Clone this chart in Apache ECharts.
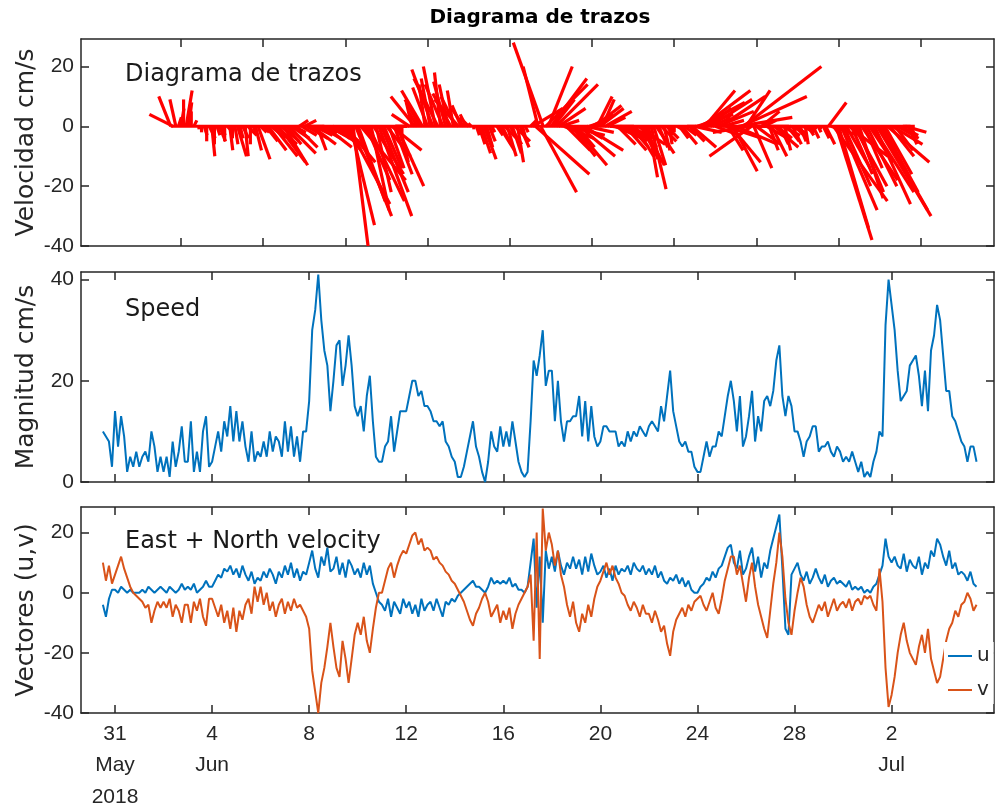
<!DOCTYPE html>
<html><head><meta charset="utf-8">
<script src="https://cdn.jsdelivr.net/npm/echarts@6/dist/echarts.min.js"></script>
<style>html,body{margin:0;padding:0;background:#fff}#c{width:995px;height:811px}</style>
</head><body><div id="c"></div>
<script>
// Samples every 3 hours, from 2018-05-30 12:00 to 2018-07-05 12:00.
// x in days since 2018-05-31 00:00
const startDay = -0.5;
const stepHours = 3;

// bottom-panel date ticks
const tickDays = [0, 4, 8, 12, 16, 20, 24, 28, 32];
const tickLabels = ['31\nMay\n2018', '4\nJun', '8', '12', '16', '20', '24', '28', '2\nJul'];
// stick-panel ticks (unlabelled)
const stickTickDays = [0, 4, 8, 12, 16, 20, 24, 28, 32, 36];
const velTicks = [-40, -20, 0, 20];
const speedTicks = [0, 20, 40];

// East velocity u (cm/s)
const u = [
  -4, -8, -2, 1,                 // May 30 (12h-21h)
  1, 0, 2, 1, 0, 1, 0, 0,        // May 31
  0, 1, 0, 2, 1, 0, 1, 2,        // Jun 1
  1, 0, 2, 1, 0, 1, 3, 1,        // Jun 2
  2, 1, 3, 0, 1, 2, 4, 2,        // Jun 3
  2, 4, 6, 5, 8, 7, 9, 6,        // Jun 4
  8, 5, 9, 6, 4, 7, 3, 5,        // Jun 5
  4, 7, 5, 8, 6, 3, 7, 5,        // Jun 6
  9, 6, 10, 5, 8, 4, 7, 6,       // Jun 7
  10, 14, 8, 5, 12, 9, 15, 7,    // Jun 8
  8, 12, 6, 10, 5, 11, 9, 6,     // Jun 9
  8, 5, 10, 6, 9, 3, 0, -3,      // Jun 10
  -4, -6, -2, -8, -3, -5, -7, -2,// Jun 11
  -5, -3, -7, -4, -8, -2, -6, -4,// Jun 12
  -3, -6, -2, -5, -8, -3, -4, -2,// Jun 13
  -3, -1, 0, 1, 2, 3, 4, 2,      // Jun 14
  2, 1, 0, 2, 5, 3, 4, 3,        // Jun 15
  4, 3, 5, 2, 3, 1, 1, 0,        // Jun 16
  2, 10, 18, -5, 12, -10, 14, 8, // Jun 17
  12, 7, 14, 9, 6, 10, 8, 12,    // Jun 18
  8, 11, 6, 12, 7, 13, 9, 6,     // Jun 19
  7, 9, 5, 8, 4, 9, 6, 8,        // Jun 20
  7, 9, 6, 10, 8, 7, 9, 6,       // Jun 21
  8, 6, 9, 5, 7, 4, 3, 5,        // Jun 22
  4, 6, 3, 5, 2, 4, 1, 0,        // Jun 23
  0, 2, 3, 5, 4, 7, 5, 8,        // Jun 24
  9, 12, 15, 16, 10, 8, 14, 6,   // Jun 25
  8, 12, 15, 7, 12, 5, 10, 8,    // Jun 26
  14, 18, 22, 26, 8, -12, -14, 6,// Jun 27
  8, 10, 6, 4, 7, 3, 5, 8,       // Jun 28
  5, 3, 6, 2, 4, 5, 3, 4,        // Jun 29
  3, 2, 4, 1, 2, 1, 2, 0,        // Jun 30
  1, 0, 2, 3, 6, 9, 18, 12,      // Jul 1
  10, 12, 9, 8, 13, 7, 11, 9,    // Jul 2
  8, 12, 6, 10, 8, 14, 12, 18,   // Jul 3
  16, 12, 9, 14, 8, 10, 6, 7,    // Jul 4
  6, 4, 7, 3, 2                  // Jul 5 (0h-12h)
];

// North velocity v (cm/s)
const v = [
  10, 4, 9, 3,
  6, 9, 12, 8, 5, 2, 0, -1,
  -2, -3, -5, -4, -10, -6, -3, -5,
  -3, -5, -2, -8, -4, -6, -10, -4,
  -4, -10, -3, -6, -2, -8, -11, -2,
  -2, -5, -8, -4, -10, -6, -12, -5,
  -13, -6, -9, -4, -2, -7, 2, -3,
  2, -4, 0, -6, -3, -8, -4, -2,
  -7, -3, -6, -2, -5, -4, -6, -8,
  -12, -26, -33, -40, -30, -25, -18, -10,
  -18, -25, -28, -16, -22, -30, -22, -14,
  -10, -14, -8, -16, -20, -12, -5, 0,
  0, 4, 8, 10, 5, 9, 12, 14,
  13, 16, 19, 20, 16, 18, 14, 15,
  14, 11, 12, 10, 9, 7, 6, 4,
  3, 1, -1, -3, -6, -9, -11, -7,
  -5, -2, 0, -3, -8, -6, -4, -10,
  -6, -9, -5, -12, -7, -4, -2, 0,
  2, 6, -16, 20, -22, 28, 14, 20,
  16, 9, 14, 6, 2, -4, -8, -3,
  -10, -13, -7, -10, -4, -8, -2, 2,
  4, 7, 10, 6, 9, 5, 3, 0,
  -1, -4, -6, -3, -5, -8, -4, -7,
  -7, -10, -6, -9, -13, -11, -17, -21,
  -13, -9, -7, -5, -8, -4, -6, -3,
  -2, -1, -4, -6, -3, 0, -5, -7,
  -2, 4, 8, 12, 12, 6, 9, 3,
  -3, 5, 10, 2, -4, -8, -12, -15,
  -6, 3, 10, 20, 12, -2, -10, -14,
  -6, 0, 5, 2, -4, -8, -10, -7,
  -4, -6, -3, -8, -5, -2, -6, -4,
  -3, -5, -2, -6, -3, -2, -4, -1,
  -2, -1, -4, -6, 8, -3, -25, -38,
  -34, -28, -20, -14, -10, -16, -20, -22,
  -24, -18, -14, -20, -12, -22, -26, -30,
  -28, -22, -16, -12, -10, -6, -8, -4,
  -3, 0, -2, -6, -4
];

// Speed magnitude (cm/s)
const speed = [
  10, 9, 8, 3,
  14, 7, 13, 9, 2, 5, 3, 6,
  3, 5, 6, 4, 10, 7, 2, 5,
  2, 5, 1, 8, 3, 6, 11, 4,
  4, 12, 2, 6, 2, 10, 13, 3,
  4, 7, 10, 6, 12, 9, 15, 8,
  14, 8, 12, 7, 4, 10, 4, 6,
  5, 8, 5, 10, 6, 9, 8, 5,
  12, 6, 11, 5, 9, 4, 10, 10,
  16, 30, 34, 41, 32, 26, 23, 14,
  20, 27, 28, 19, 23, 29, 23, 15,
  13, 15, 10, 17, 21, 12, 5, 4,
  4, 7, 8, 13, 6, 10, 14, 14,
  14, 17, 20, 20, 17, 18, 15, 15,
  14, 12, 12, 11, 12, 8, 7, 5,
  4, 1, 1, 3, 6, 9, 12, 7,
  5, 2, 0, 4, 10, 7, 6, 11,
  7, 10, 7, 12, 8, 4, 2, 1,
  2, 12, 24, 21, 25, 30, 19, 22,
  22, 12, 20, 12, 8, 12, 12, 13,
  13, 17, 9, 16, 8, 15, 9, 7,
  8, 11, 11, 10, 10, 10, 7, 8,
  7, 10, 8, 10, 9, 11, 10, 9,
  11, 12, 11, 10, 15, 12, 17, 22,
  14, 11, 8, 7, 8, 6, 6, 3,
  2, 2, 5, 8, 5, 7, 7, 10,
  9, 13, 17, 20, 16, 10, 17, 7,
  9, 13, 18, 8, 13, 10, 16, 17,
  15, 18, 24, 27, 17, 13, 17, 15,
  10, 10, 8, 5, 8, 9, 11, 11,
  6, 7, 7, 8, 6, 5, 7, 6,
  4, 5, 4, 6, 4, 2, 4, 1,
  2, 1, 4, 6, 10, 9, 31, 40,
  35, 30, 22, 16, 17, 18, 23, 24,
  25, 21, 15, 22, 14, 26, 29, 35,
  32, 25, 18, 18, 13, 12, 10, 8,
  7, 4, 7, 7, 4
];

const times = u.map((_, i) => startDay + i * stepHours / 24);
const stickData = times.map((t, i) => [t, u[i], v[i]]);
const uData = times.map((t, i) => [t, u[i]]);
const vData = times.map((t, i) => [t, v[i]]);
const sData = times.map((t, i) => [t, speed[i]]);

const AX = '#262626';
const FONT = 'DejaVu Sans';
const TICKFONT = 'Liberation Sans';

const grids = [
  { left: 81, right: 1, top: 39, height: 207, outerBoundsMode: 'none', containLabel: false },
  { left: 81, right: 1, top: 272, height: 210, outerBoundsMode: 'none', containLabel: false },
  { left: 81, right: 1, top: 507, height: 206, outerBoundsMode: 'none', containLabel: false }
];
const xRanges = [[-4.866, 39.56], [-1.402, 36.22], [-1.402, 36.22]];
const yRanges = [[-40, 29.2], [0, 41.5], [-40, 28.5]];
const yNames = ['Velocidad cm/s', 'Magnitud cm/s', 'Vectores (u,v)'];

const xAxes = [], yAxes = [];
for (let g = 0; g < 3; g++) {
  const ticks = g === 0 ? stickTickDays : tickDays;
  ['bottom', 'top'].forEach(pos => {
    const showLab = g === 2 && pos === 'bottom';
    xAxes.push({
      type: 'value', gridIndex: g, position: pos,
      min: xRanges[g][0], max: xRanges[g][1],
      axisLine: { show: true, onZero: false, lineStyle: { color: AX, width: 1.5 } },
      axisTick: { show: true, inside: true, length: 8, customValues: ticks, lineStyle: { color: AX, width: 1.5 } },
      axisLabel: showLab ? {
        show: true, customValues: tickDays, margin: 5,
        fontFamily: TICKFONT, fontSize: 21, lineHeight: 31.5, color: AX,
        formatter: val => { const k = tickDays.findIndex(d => Math.abs(d - val) < 1e-6); return k >= 0 ? tickLabels[k] : ''; }
      } : { show: false },
      splitLine: { show: false }
    });
  });
  const yt = g === 1 ? speedTicks : velTicks;
  ['left', 'right'].forEach(pos => {
    const main = pos === 'left';
    yAxes.push({
      type: 'value', gridIndex: g, position: pos,
      min: yRanges[g][0], max: yRanges[g][1],
      name: main ? yNames[g] : '', nameLocation: 'middle', nameGap: 42, nameMoveOverlap: false,
      nameTextStyle: { fontFamily: FONT, fontSize: 25, color: AX },
      axisLine: { show: true, onZero: false, lineStyle: { color: AX, width: 1.5 } },
      axisTick: { show: true, inside: true, length: 8, customValues: yt, lineStyle: { color: AX, width: 1.5 } },
      axisLabel: main ? { show: true, customValues: yt, margin: 7, fontFamily: TICKFONT, fontSize: 21, color: AX } : { show: false },
      splitLine: { show: false }
    });
  });
}

const option = {
  animation: false,
  backgroundColor: '#fff',
  grid: grids,
  xAxis: xAxes,
  yAxis: yAxes,
  legend: {
    data: ['u', 'v'], orient: 'vertical', left: 944, top: 642,
    icon: 'rect', itemWidth: 24, itemHeight: 2, itemGap: 14,
    backgroundColor: '#fff', padding: [4, 4, 4, 4],
    textStyle: { fontFamily: FONT, fontSize: 20, color: AX }
  },
  graphic: [
    { type: 'text', x: 540, y: 18, style: { text: 'Diagrama de trazos', font: 'bold 20px "DejaVu Sans"', fill: '#000', textAlign: 'center', textVerticalAlign: 'middle' } },
    { type: 'text', x: 125, y: 75, style: { text: 'Diagrama de trazos', font: '24px "DejaVu Sans"', fill: '#1a1a1a', textAlign: 'left', textVerticalAlign: 'middle' } },
    { type: 'text', x: 125, y: 310, style: { text: 'Speed', font: '24px "DejaVu Sans"', fill: '#1a1a1a', textAlign: 'left', textVerticalAlign: 'middle' } },
    { type: 'text', x: 125, y: 542, style: { text: 'East + North velocity', font: '24px "DejaVu Sans"', fill: '#1a1a1a', textAlign: 'left', textVerticalAlign: 'middle' } }
  ],
  series: [
    {
      name: 'baseline', type: 'line', xAxisIndex: 0, yAxisIndex: 0,
      data: [[times[0], 0], [times[times.length - 1], 0]],
      showSymbol: false, lineStyle: { color: '#ff0000', width: 3 }, silent: true
    },
    {
      name: 'sticks', type: 'custom', xAxisIndex: 0, yAxisIndex: 0,
      data: stickData, encode: { x: 0, y: 2 }, clip: true,
      renderItem: function (params, api) {
        const t = api.value(0), uu = api.value(1), vv = api.value(2);
        const p0 = api.coord([t, 0]);
        const p1 = api.coord([t, vv]);
        const k = api.size([0, 1])[1];
        return {
          type: 'line',
          shape: { x1: p0[0], y1: p0[1], x2: p0[0] + uu * k, y2: p1[1] },
          style: { stroke: '#ff0000', lineWidth: 3.2 }
        };
      }
    },
    {
      name: 'speed', type: 'line', xAxisIndex: 2, yAxisIndex: 2, data: sData,
      showSymbol: false, lineStyle: { color: '#0072BD', width: 2 }, itemStyle: { color: '#0072BD' }
    },
    {
      name: 'u', type: 'line', xAxisIndex: 4, yAxisIndex: 4, data: uData,
      showSymbol: false, lineStyle: { color: '#0072BD', width: 2 }, itemStyle: { color: '#0072BD' }
    },
    {
      name: 'v', type: 'line', xAxisIndex: 4, yAxisIndex: 4, data: vData,
      showSymbol: false, lineStyle: { color: '#D95319', width: 2 }, itemStyle: { color: '#D95319' }
    }
  ]
};

const chart = echarts.init(document.getElementById('c'));
chart.setOption(option);
</script>
</body></html>
